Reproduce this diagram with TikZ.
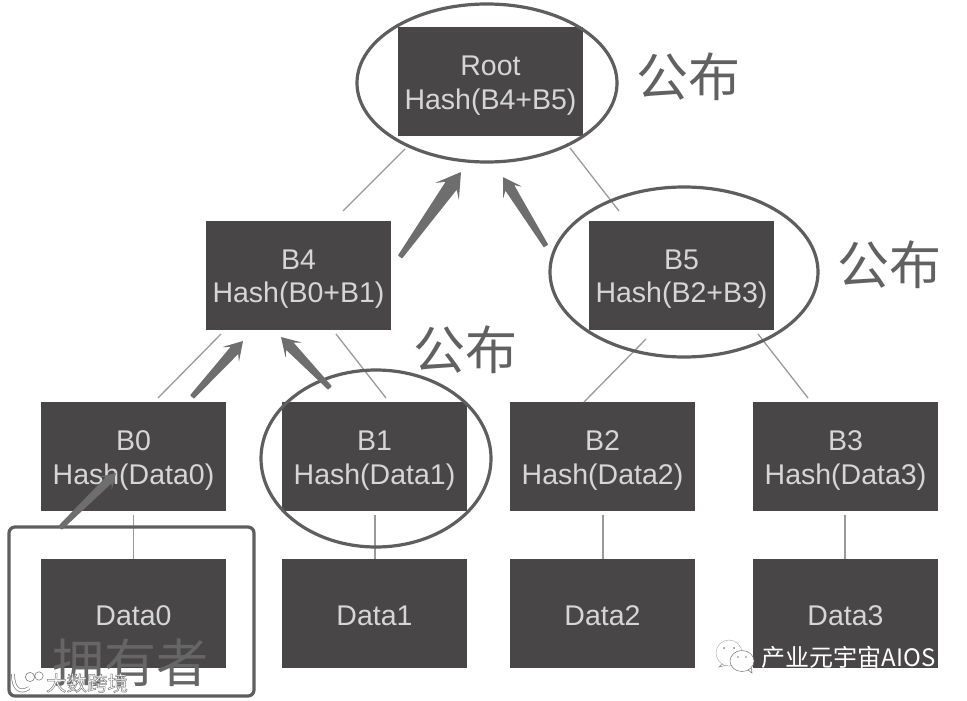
\documentclass[tikz,border=0pt]{standalone}
\usepackage{fontspec}
\setmainfont{Liberation Sans}
\newfontfamily\cjk{Noto Sans CJK SC}
\usetikzlibrary{calc,shapes.geometric}
\definecolor{boxc}{HTML}{484647}
\definecolor{txtc}{HTML}{D6D6D6}
\definecolor{ringc}{HTML}{5E5E5E}
\definecolor{linec}{HTML}{9A9A9A}
\definecolor{arrc}{HTML}{6E6E6E}
% \taper{tail}{tip}{scale}
\newcommand{\taper}[3]{%
  \coordinate (nk) at ($(#2)!#3*16pt!(#1)$);
  \coordinate (nb) at ($(#2)!#3*23pt!(#1)$);
  \fill[arrc,rounded corners=0.6pt]
    ($(#1)!2.6pt!90:(#2)$) -- ($(nk)!#3*6.5pt!90:(#2)$) -- ($(nb)!#3*14pt!90:(#2)$) -- (#2)
    -- ($(nb)!#3*14pt!-90:(#2)$) -- ($(nk)!#3*6.5pt!-90:(#2)$) -- ($(#1)!2.6pt!-90:(#2)$) -- cycle;}
\tikzset{x=1pt,y=-1pt,
  plainbox/.style={fill=boxc,minimum width=185pt,minimum height=109pt,inner sep=0pt},
  boxtext/.style={text=txtc,inner sep=0pt,align=center,font=\fontsize{28.5}{33.5}\selectfont},
  hashbox/.style={plainbox,label={[boxtext,yshift=-4pt]center:{#1}}},
  databox/.style={plainbox,label={[boxtext,yshift=-2pt]center:{#1}}},
  ring/.style={draw=ringc,line width=3.2pt,ellipse,inner sep=0pt},
  thin link/.style={draw=linec,line width=1.3pt},
  pub/.style={text=black!62,font=\cjk\fontsize{52}{52}\selectfont,inner sep=0pt},
}
\begin{document}
\begin{tikzpicture}
\useasboundingbox (0,0) rectangle (967,701);
\fill[white] (0,0) rectangle (967,701);
% boxes
\node[hashbox={Root\\Hash(B4+B5)}] (root) at (490.5,81.5) {};
\node[hashbox={B4\\Hash(B0+B1)}] (b4) at (298.5,275) {};
\node[hashbox={B5\\Hash(B2+B3)}] (b5) at (681.5,275) {};
\node[hashbox={B0\\Hash(Data0)}] (b0) at (133.5,456.5) {};
\node[hashbox={B1\\Hash(Data1)}] (b1) at (374.5,456.5) {};
\node[hashbox={B2\\Hash(Data2)}] (b2) at (602.5,456.5) {};
\node[hashbox={B3\\Hash(Data3)}] (b3) at (845.5,456.5) {};
\node[databox={Data0}] (d0) at (133.5,613.5) {};
\node[databox={Data1}] (d1) at (374.5,613.5) {};
\node[databox={Data2}] (d2) at (602.5,613.5) {};
\node[databox={Data3}] (d3) at (845.5,613.5) {};
% free ends of the thin links
\coordinate (r4a) at (405,149); \coordinate (r4b) at (343,211);
\coordinate (r5a) at (570,148); \coordinate (r5b) at (619,211);
\coordinate (l0a) at (221,334); \coordinate (l0b) at (158,398);
\coordinate (l1a) at (336,334); \coordinate (l1b) at (386,398);
\coordinate (l2a) at (646,339); \coordinate (l2b) at (584,402);
\coordinate (l3a) at (758,334); \coordinate (l3b) at (808,398);
\coordinate (v0) at (133.5,515); \coordinate (v1) at (375,515);
\coordinate (v2) at (603,515); \coordinate (v3) at (845,515);
\draw[thin link] (r4a) -- (r4b);
\draw[thin link] (r5a) -- (r5b);
\draw[thin link] (l0a) -- (l0b);
\draw[thin link] (l1a) -- (l1b);
\draw[thin link] (l2a) -- (l2b);
\draw[thin link] (l3a) -- (l3b);
\draw[thin link] (v0) -- (v0 |- d0.north);
\draw[thin link] (v1) -- (v1 |- d1.north);
\draw[thin link] (v2) -- (v2 |- d2.north);
\draw[thin link] (v3) -- (v3 |- d3.north);
% rings
\node[ring,minimum width=260pt,minimum height=158pt] (ringr) at (487,83) {};
\node[ring,minimum width=268pt,minimum height=170pt] (ring5) at (684,272) {};
\node[ring,minimum width=230pt,minimum height=177pt] (ring1) at (376,458.5) {};
\node[draw=ringc,line width=3.2pt,rounded corners=6pt,minimum width=245pt,minimum height=169pt,inner sep=0pt] (own) at (131.5,611.5) {};
% tapered arrows
\coordinate (a1s) at (400,257); \coordinate (a1t) at (461,172);
\coordinate (a2s) at (546,246); \coordinate (a2t) at (503,177);
\coordinate (a3s) at (192,397); \coordinate (a3t) at (243,341);
\coordinate (a4s) at (330,388); \coordinate (a4t) at (281,337);
\coordinate (a5s) at (60,528);  \coordinate (a5t) at (116,473);
\taper{a1s}{a1t}{1.05}
\taper{a2s}{a2t}{0.8}
\taper{a3s}{a3t}{0.8}
\taper{a4s}{a4t}{0.8}
\taper{a5s}{a5t}{0.65}
% labels
\node[pub] (p1) at (688,77) {公布};
\node[pub] (p2) at (889,265) {公布};
\node[pub] (p3) at (465,350) {公布};
\node[text=black!60,font=\cjk\fontsize{52}{52}\selectfont,inner sep=0pt] (owner) at (130.5,663) {拥有者};
% watermarks
\node[text=white,font=\cjk\fontsize{20.5}{20.5}\selectfont,inner sep=0pt] (wm1) at (87,683) {\special{pdf:code q 2 Tr 0.5 w 0.5 G}大数跨境\special{pdf:code 0 Tr Q}};
\draw[black!50,line width=3.8pt] (13,674) .. controls (13,689) and (20,694) .. (29,688);
\draw[white,line width=2.4pt] (13,674) .. controls (13,689) and (20,694) .. (29,688);
\draw[white,line width=1.8pt] (30,677) circle[radius=3.6pt] (39,676) circle[radius=3.2pt];
\draw[black!50,line width=0.6pt] (30,677) circle[radius=4.6pt] (39,676) circle[radius=4.2pt];
\node[text=white,font=\cjk\fontsize{24}{24}\selectfont,inner sep=0pt] (wm2) at (848.5,657) {产业元宇宙AIOS};
\draw[black!45,fill=white,line width=0.5pt] (722,664) -- (719,667) -- (727,665) -- cycle;
\draw[black!30,fill=white,line width=0.5pt] (729,653) ellipse[x radius=13pt,y radius=13pt];
\draw[black!55,fill=white,line width=0.5pt] (748,670) -- (752,673) -- (751,667) -- cycle;
\draw[black!55,fill=white,line width=0.5pt] (742,661) ellipse[x radius=12pt,y radius=10.5pt];
\fill[black!50] (724,648) circle[radius=1pt] (734,648) circle[radius=1pt] (738,657) circle[radius=0.9pt] (746,657) circle[radius=0.9pt];
\end{tikzpicture}
\end{document}
